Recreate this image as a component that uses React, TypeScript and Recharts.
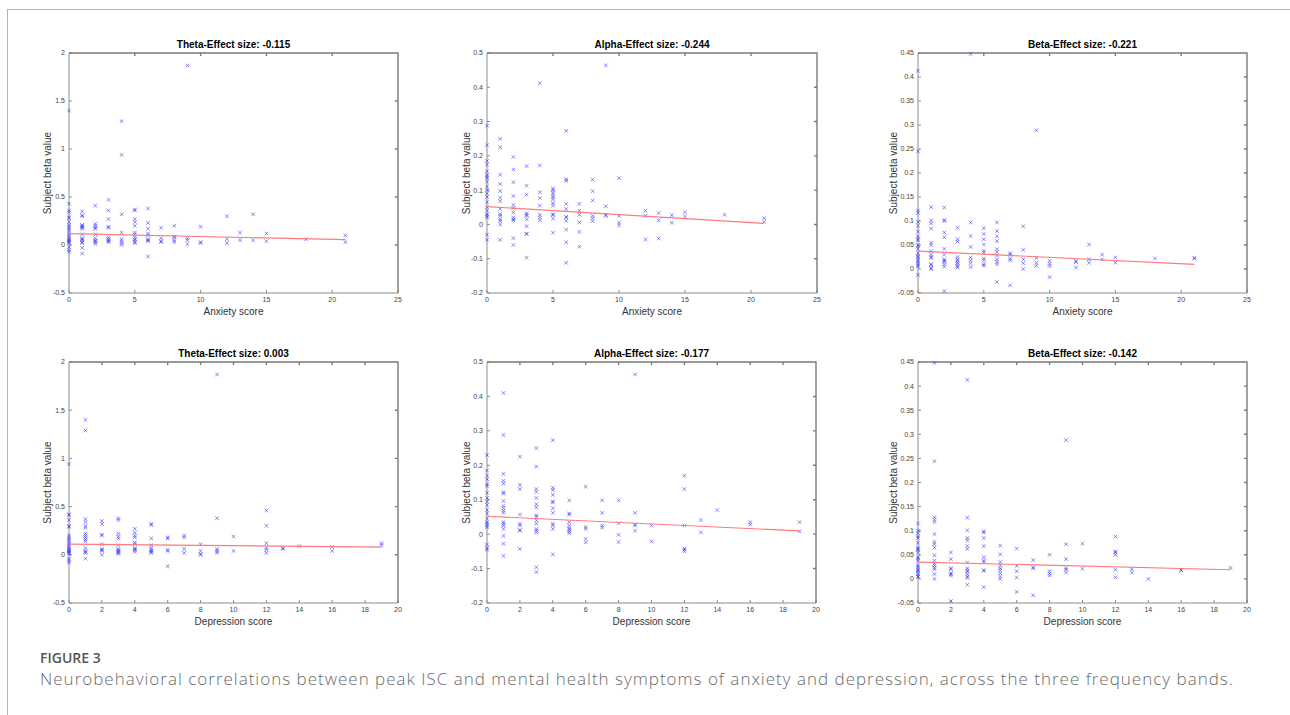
import { ScatterChart, Scatter, XAxis, YAxis, ReferenceArea } from "recharts";

type Group = [number, number[]];

const anxietyTicks = [0, 5, 10, 15, 20, 25];
const depressionTicks = [0, 2, 4, 6, 8, 10, 12, 14, 16, 18, 20];
const thetaTicks = [-0.5, 0, 0.5, 1, 1.5, 2];
const alphaTicks = [-0.2, -0.1, 0, 0.1, 0.2, 0.3, 0.4, 0.5];
const betaTicks = [-0.05, 0, 0.05, 0.1, 0.15, 0.2, 0.25, 0.3, 0.35, 0.4, 0.45];

const titles = [
  "Theta-Effect size: -0.115",
  "Alpha-Effect size: -0.244",
  "Beta-Effect size: -0.221",
  "Theta-Effect size: 0.003",
  "Alpha-Effect size: -0.177",
  "Beta-Effect size: -0.142",
];

// anxiety score -> subject beta values
const thetaAnxiety: Group[] = [
  [0, [1.4, 0.43, 0.36, 0.34, 0.29, 0.28, 0.24, 0.21, 0.19, 0.17, 0.15, 0.12, 0.1, 0.08, 0.06, 0.05, 0.04, 0.03, 0.02, -0.02, -0.05, -0.07]],
  [1, [0.35, 0.31, 0.3, 0.21, 0.2, 0.19, 0.18, 0.17, 0.11, 0.07, 0.06, 0.05, 0.03, 0.02, -0.03, -0.09]],
  [2, [0.41, 0.22, 0.2, 0.18, 0.17, 0.11, 0.07, 0.05, 0.04, 0.03, 0.01]],
  [3, [0.47, 0.36, 0.27, 0.19, 0.18, 0.08, 0.06, 0.05, 0.04, 0.03]],
  [4, [1.29, 0.94, 0.32, 0.13, 0.06, 0.04, 0.02, 0.0]],
  [5, [0.37, 0.36, 0.27, 0.24, 0.2, 0.13, 0.11, 0.08, 0.06, 0.05, 0.03, 0.02]],
  [6, [0.38, 0.23, 0.17, 0.12, 0.1, 0.06, 0.05, 0.04, -0.12]],
  [7, [0.18, 0.07, 0.04, 0.03]],
  [8, [0.2, 0.09, 0.08, 0.05, 0.03]],
  [9, [1.87, 0.07, 0.05, 0.01]],
  [10, [0.19, 0.03, 0.02]],
  [12, [0.3, 0.06, 0.02]],
  [13, [0.13, 0.05]],
  [14, [0.32, 0.05]],
  [15, [0.12, 0.04]],
  [18, [0.06]],
  [21, [0.1, 0.03]],
];

const alphaAnxiety: Group[] = [
  [0, [0.288, 0.231, 0.185, 0.175, 0.155, 0.145, 0.14, 0.135, 0.125, 0.11, 0.1, 0.09, 0.08, 0.065, 0.05, 0.04, 0.03, 0.025, 0.02, -0.03, -0.045]],
  [1, [0.25, 0.225, 0.145, 0.118, 0.097, 0.078, 0.068, 0.045, 0.03, 0.025, 0.015, 0.01, 0.0, -0.045]],
  [2, [0.197, 0.16, 0.123, 0.083, 0.057, 0.048, 0.035, 0.02, 0.015, 0.012, -0.04, -0.06]],
  [3, [0.17, 0.113, 0.087, 0.033, 0.028, 0.025, 0.015, -0.005, -0.027, -0.028, -0.097]],
  [4, [0.412, 0.172, 0.094, 0.077, 0.055, 0.028, 0.02, 0.012]],
  [5, [0.105, 0.1, 0.093, 0.087, 0.08, 0.073, 0.062, 0.055, 0.03, 0.027, 0.017, -0.024]],
  [6, [0.273, 0.132, 0.127, 0.06, 0.045, 0.022, 0.02, 0.01, -0.015, -0.052, -0.112]],
  [7, [0.06, 0.04, 0.028, 0.006, -0.022, -0.065]],
  [8, [0.131, 0.097, 0.07, 0.025, 0.018, 0.01]],
  [9, [0.464, 0.053, 0.028, 0.025]],
  [10, [0.135, 0.025, 0.005, -0.003]],
  [12, [0.04, 0.025, -0.044]],
  [13, [0.033, 0.012, -0.041]],
  [14, [0.027, 0.005]],
  [15, [0.035, 0.023]],
  [18, [0.028]],
  [21, [0.018, 0.008]],
];

const betaAnxiety: Group[] = [
  [0, [0.413, 0.245, 0.122, 0.117, 0.098, 0.09, 0.078, 0.068, 0.063, 0.06, 0.05, 0.047, 0.042, 0.033, 0.028, 0.025, 0.02, 0.017, 0.012, 0.008, 0.005, -0.012]],
  [1, [0.129, 0.101, 0.095, 0.084, 0.055, 0.05, 0.037, 0.03, 0.025, 0.023, 0.01, 0.008, 0.002, 0.0]],
  [2, [0.128, 0.102, 0.1, 0.076, 0.066, 0.042, 0.03, 0.02, 0.018, 0.015, 0.01, 0.005, -0.046]],
  [3, [0.086, 0.062, 0.057, 0.025, 0.02, 0.017, 0.013, 0.01, 0.006, 0.003]],
  [4, [0.448, 0.097, 0.069, 0.046, 0.024, 0.018, 0.012, 0.004]],
  [5, [0.085, 0.073, 0.062, 0.051, 0.038, 0.034, 0.022, 0.018, 0.01, 0.007]],
  [6, [0.097, 0.079, 0.068, 0.058, 0.041, 0.035, 0.028, 0.02, 0.015, 0.01, -0.027]],
  [7, [0.033, 0.03, 0.022, 0.018, -0.034]],
  [8, [0.089, 0.04, 0.02, 0.012, 0.0]],
  [9, [0.289, 0.023, 0.013, 0.007]],
  [10, [0.017, 0.011, 0.006, -0.017]],
  [12, [0.016, 0.015, 0.003]],
  [13, [0.051, 0.02, 0.013]],
  [14, [0.03, 0.02]],
  [15, [0.024, 0.013]],
  [18, [0.022]],
  [21, [0.023, 0.022]],
];

// depression score -> subject beta values
const thetaDepression: Group[] = [
  [0, [0.94, 0.42, 0.41, 0.36, 0.3, 0.29, 0.2, 0.18, 0.16, 0.14, 0.12, 0.1, 0.08, 0.06, 0.05, 0.04, 0.03, 0.02, 0.01, -0.04, -0.06, -0.08]],
  [1, [1.4, 1.29, 0.37, 0.34, 0.3, 0.28, 0.22, 0.2, 0.18, 0.16, 0.14, 0.07, 0.04, 0.03, 0.02, -0.04]],
  [2, [0.35, 0.32, 0.21, 0.2, 0.11, 0.06, 0.05, 0.04, 0.0]],
  [3, [0.38, 0.36, 0.22, 0.19, 0.17, 0.1, 0.06, 0.05, 0.04, 0.03, 0.02, 0.01]],
  [4, [0.27, 0.23, 0.2, 0.18, 0.13, 0.11, 0.07, 0.06, 0.05, 0.03]],
  [5, [0.32, 0.31, 0.17, 0.1, 0.07, 0.05, 0.04, 0.03, 0.02]],
  [6, [0.18, 0.17, 0.05, 0.04, -0.12]],
  [7, [0.2, 0.18, 0.06, 0.02]],
  [8, [0.11, 0.04, 0.01, 0.0]],
  [9, [1.87, 0.38, 0.06, 0.04, 0.02]],
  [10, [0.19, 0.04]],
  [12, [0.46, 0.3, 0.12, 0.07, 0.05, 0.02]],
  [13, [0.07, 0.06]],
  [14, [0.09]],
  [16, [0.08, 0.04]],
  [19, [0.12, 0.1]],
];

const alphaDepression: Group[] = [
  [0, [0.23, 0.185, 0.17, 0.16, 0.145, 0.14, 0.12, 0.105, 0.095, 0.085, 0.07, 0.06, 0.045, 0.035, 0.03, 0.025, 0.02, -0.03, -0.04, -0.045]],
  [1, [0.41, 0.288, 0.175, 0.155, 0.147, 0.122, 0.118, 0.096, 0.082, 0.075, 0.068, 0.062, 0.035, 0.03, 0.025, 0.015, -0.005, -0.028, -0.063]],
  [2, [0.225, 0.143, 0.131, 0.057, 0.03, 0.025, 0.012, 0.01, -0.043]],
  [3, [0.25, 0.196, 0.131, 0.123, 0.105, 0.087, 0.078, 0.055, 0.05, 0.04, 0.03, 0.015, 0.01, 0.005, -0.096, -0.11]],
  [4, [0.273, 0.135, 0.128, 0.114, 0.095, 0.092, 0.075, 0.062, 0.03, 0.025, 0.015, -0.059]],
  [5, [0.098, 0.06, 0.057, 0.035, 0.025, 0.017, 0.013, 0.008, 0.003]],
  [6, [0.138, 0.021, 0.015, -0.014, -0.024]],
  [7, [0.098, 0.062, 0.025, 0.019]],
  [8, [0.098, 0.032, -0.002, -0.023]],
  [9, [0.464, 0.062, 0.028, 0.025, 0.01]],
  [10, [0.025, -0.021]],
  [12, [0.17, 0.131, 0.025, -0.042, -0.045, -0.05]],
  [13, [0.041, 0.005]],
  [14, [0.07]],
  [16, [0.035, 0.028]],
  [19, [0.035, 0.008]],
];

const betaDepression: Group[] = [
  [0, [0.115, 0.1, 0.095, 0.088, 0.085, 0.075, 0.065, 0.062, 0.06, 0.055, 0.045, 0.042, 0.038, 0.028, 0.025, 0.02, 0.018, 0.015, 0.01, 0.006, 0.004]],
  [1, [0.448, 0.244, 0.128, 0.123, 0.118, 0.093, 0.077, 0.072, 0.065, 0.049, 0.038, 0.032, 0.028, 0.023, 0.02, 0.01, 0.0]],
  [2, [0.055, 0.041, 0.022, 0.02, 0.012, 0.01, 0.007, -0.046]],
  [3, [0.413, 0.127, 0.101, 0.085, 0.08, 0.068, 0.062, 0.034, 0.022, 0.018, 0.015, 0.01, 0.005, 0.002, -0.012]],
  [4, [0.099, 0.096, 0.085, 0.068, 0.045, 0.038, 0.035, 0.018, 0.017, -0.017]],
  [5, [0.069, 0.051, 0.035, 0.028, 0.022, 0.018, 0.012, 0.005, 0.0]],
  [6, [0.063, 0.027, 0.016, 0.003, -0.027]],
  [7, [0.039, 0.024, 0.022, -0.034]],
  [8, [0.05, 0.016, 0.011, 0.007]],
  [9, [0.288, 0.072, 0.041, 0.022, 0.019, 0.013]],
  [10, [0.073, 0.021]],
  [12, [0.088, 0.057, 0.055, 0.05, 0.019, 0.003]],
  [13, [0.02, 0.013]],
  [14, [0.0]],
  [16, [0.018, 0.018]],
  [19, [0.023]],
];

// least-squares lines, end points
const thetaAnxietyFit = [[0, 0.118], [21, 0.055]];
const alphaAnxietyFit = [[0, 0.052], [21, 0.003]];
const betaAnxietyFit = [[0, 0.0374], [21, 0.0097]];
const thetaDepressionFit = [[0, 0.11], [19, 0.08]];
const alphaDepressionFit = [[0, 0.052], [19, 0.0093]];
const betaDepressionFit = [[0, 0.035], [19, 0.019]];

const panels = [
  { title: titles[0], xLabel: "Anxiety score", xTicks: anxietyTicks, yTicks: thetaTicks, groups: thetaAnxiety, fit: thetaAnxietyFit },
  { title: titles[1], xLabel: "Anxiety score", xTicks: anxietyTicks, yTicks: alphaTicks, groups: alphaAnxiety, fit: alphaAnxietyFit },
  { title: titles[2], xLabel: "Anxiety score", xTicks: anxietyTicks, yTicks: betaTicks, groups: betaAnxiety, fit: betaAnxietyFit },
  { title: titles[3], xLabel: "Depression score", xTicks: depressionTicks, yTicks: thetaTicks, groups: thetaDepression, fit: thetaDepressionFit },
  { title: titles[4], xLabel: "Depression score", xTicks: depressionTicks, yTicks: alphaTicks, groups: alphaDepression, fit: alphaDepressionFit },
  { title: titles[5], xLabel: "Depression score", xTicks: depressionTicks, yTicks: betaTicks, groups: betaDepression, fit: betaDepressionFit },
];

// plot-area boxes in page pixels + gap from axis to y label
const boxes = [
  { left: 69, right: 398, top: 53, bottom: 293, gap: 21.5 },
  { left: 487, right: 817, top: 53, bottom: 293, gap: 21 },
  { left: 918, right: 1247, top: 53, bottom: 293, gap: 24.5 },
  { left: 69, right: 398, top: 362, bottom: 603, gap: 21.5 },
  { left: 487, right: 816, top: 362, bottom: 603, gap: 21 },
  { left: 918, right: 1247, top: 362, bottom: 603, gap: 25 },
];

const FONT = "'Liberation Sans', Arial, Helvetica, sans-serif";
const AXIS = "#8c8c8c";
const TICK_LEN = 3;

const fmt = (v: number) => String(Number(v.toFixed(3)));

const cross = (props: any) => {
  const { cx, cy } = props;
  const s = 1.8;
  return (
    <path
      d={`M${cx - s},${cy - s}L${cx + s},${cy + s}M${cx + s},${cy - s}L${cx - s},${cy + s}`}
      stroke="#2a2aff"
      strokeOpacity={0.75}
      strokeWidth={0.75}
      fill="none"
    />
  );
};

const nothing = () => <g />;

function Panel({ p, box }: { p: (typeof panels)[number]; box: (typeof boxes)[number] }) {
  const padL = 60, padT = 30, padR = 15, padB = 32;
  const w = box.right - box.left;
  const h = box.bottom - box.top;
  const [x0, x1] = [p.xTicks[0], p.xTicks[p.xTicks.length - 1]];
  const [y0, y1] = [p.yTicks[0], p.yTicks[p.yTicks.length - 1]];
  const dx = ((x1 - x0) * TICK_LEN) / w;
  const dy = ((y1 - y0) * TICK_LEN) / h;
  const points = p.groups.flatMap(([x, ys]) => ys.map((y) => ({ x, y })));
  const fitPoints = p.fit.map(([x, y]) => ({ x, y }));
  // top and right edges of the axes box, with inward tick marks
  const frame = [
    { x: x0, y: y1 },
    ...p.xTicks.slice(1, -1).flatMap((t) => [{ x: t, y: y1 }, { x: t, y: y1 - dy }, { x: t, y: y1 }]),
    { x: x1, y: y1 },
    ...p.yTicks.slice(1, -1).reverse().flatMap((t) => [{ x: x1, y: t }, { x: x1 - dx, y: t }, { x: x1, y: t }]),
    { x: x1, y: y0 },
  ];
  return (
    <div style={{ position: "absolute", left: box.left - padL, top: box.top - padT }}>
      <ScatterChart
        width={w + padL + padR}
        height={h + padT + padB}
        margin={{ top: padT, right: padR, bottom: padB - 14, left: 0 }}
      >
        <XAxis
          type="number"
          dataKey="x"
          domain={[x0, x1]}
          ticks={p.xTicks}
          height={14}
          tickSize={-TICK_LEN}
          tickMargin={7}
          axisLine={{ stroke: AXIS }}
          tickLine={{ stroke: AXIS }}
          tick={{ fontSize: 7, fill: "#444", fontFamily: FONT }}
          label={{ value: p.xLabel, position: "bottom", offset: 1, style: { fontSize: 10, fill: "#333", fontFamily: FONT } }}
        />
        <YAxis
          type="number"
          dataKey="y"
          domain={[y0, y1]}
          ticks={p.yTicks}
          width={padL}
          tickSize={-TICK_LEN}
          tickMargin={7}
          tickFormatter={fmt}
          axisLine={{ stroke: AXIS }}
          tickLine={{ stroke: AXIS }}
          tick={{ fontSize: 7, fill: "#444", fontFamily: FONT }}
          label={{
            value: "Subject beta value",
            angle: -90,
            position: "insideLeft",
            offset: padL - box.gap,
            style: { fontSize: 10, fill: "#333", fontFamily: FONT, textAnchor: "middle" },
          }}
        />
        <ReferenceArea
          x1={x0}
          x2={x1}
          y1={y0}
          y2={y1}
          fill="none"
          stroke="none"
          ifOverflow="visible"
          label={{ value: p.title, position: "top", offset: 5, style: { fontSize: 10, fontWeight: 700, fill: "#000", fontFamily: FONT } }}
        />
        <Scatter
          data={frame}
          line={{ stroke: "#7a7a7a", strokeWidth: 1.4 }}
          shape={nothing}
          isAnimationActive={false}
        />
        <Scatter data={points} shape={cross} isAnimationActive={false} />
        <Scatter
          data={fitPoints}
          line={{ stroke: "#ff7a7a", strokeWidth: 1.2 }}
          shape={nothing}
          isAnimationActive={false}
        />
      </ScatterChart>
    </div>
  );
}

export default function App() {
  return (
    <div style={{ position: "absolute", left: 0, top: 0, width: 1290, height: 715, background: "#fff", overflow: "hidden" }}>
      <div
        style={{
          position: "absolute",
          left: 7,
          top: 9,
          width: 1290,
          height: 720,
          borderTop: "1px solid #b4b4b4",
          borderLeft: "1px solid #b4b4b4",
        }}
      />
      {panels.map((p, i) => (
        <Panel key={i} p={p} box={boxes[i]} />
      ))}
      <div
        style={{
          position: "absolute",
          left: 40,
          top: 651,
          fontFamily: "'Open Sans', sans-serif",
          fontSize: 14,
          lineHeight: 1,
          fontWeight: 600,
          color: "#555",
          whiteSpace: "nowrap",
        }}
      >
        FIGURE 3
      </div>
      <div
        style={{
          position: "absolute",
          left: 40,
          top: 670,
          fontFamily: "'Open Sans', sans-serif",
          fontSize: 17,
          letterSpacing: 1.0,
          lineHeight: 1,
          fontWeight: 300,
          color: "#6a6a6a",
          whiteSpace: "nowrap",
        }}
      >
        Neurobehavioral correlations between peak ISC and mental health symptoms of anxiety and depression, across the three frequency bands.
      </div>
    </div>
  );
}
